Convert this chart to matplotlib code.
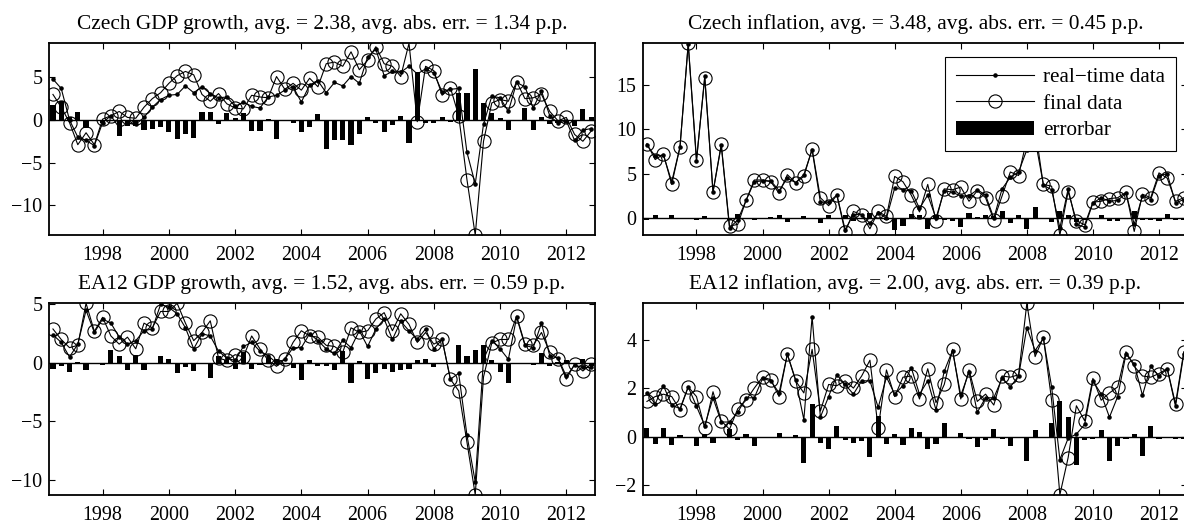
import numpy as np
import matplotlib
matplotlib.use("Agg")
import matplotlib.pyplot as plt

# quarterly observations 1996Q3 .. 2012Q4
quarters = np.arange(66)
dates = 1996.5 + 0.25 * quarters

cz_gdp_rt = [4.8, 3.7, 0.0, -2.0, -2.4, -3.0, -0.3, 0.5, -0.9, -0.4,
             -0.5, 0.3, 1.5, 2.4, 2.9, 3.0, 4.0, 3.2, 3.9, 3.1,
             2.6, 2.7, 1.6, 2.1, 1.6, 1.4, 2.7, 2.9, 3.5, 3.9,
             2.1, 4.1, 4.6, 3.2, 4.4, 4.0, 5.1, 4.3, 7.4, 8.3,
             5.2, 5.7, 5.6, 6.3, 5.4, 6.0, 5.5, 3.3, 3.6, 3.7,
             -3.8, -7.5, -0.5, 2.8, 2.6, 1.0, 4.4, 3.9, 1.4, 3.4,
             0.5, -0.4, -0.1, -2.4, -1.2, -1.0]
cz_gdp_fin = [3.0, 1.5, -0.3, -2.9, -1.5, -2.9, 0.1, 0.5, 1.0, 0.3,
              0.2, 1.5, 2.5, 3.2, 4.3, 5.2, 5.7, 5.3, 3.0, 2.2,
              3.1, 1.9, 1.4, 1.3, 2.9, 2.7, 2.6, 5.1, 3.6, 4.3,
              3.5, 4.9, 3.9, 6.6, 6.8, 6.3, 8.0, 5.9, 7.0, 8.6,
              6.6, 6.3, 5.1, 9.0, -0.2, 6.3, 5.8, 2.9, 3.8, 0.5,
              -7.0, -13.5, -2.5, 2.0, 2.4, 2.2, 4.5, 2.5, 2.6, 3.0,
              1.0, -0.1, 0.3, -1.7, -2.5, -1.3]

cz_inf_rt = [8.2, 7.0, 7.1, 4.1, 8.0, 19.6, 6.4, 16.0, 2.9, 8.2,
             -1.1, -0.2, 2.0, 4.1, 4.2, 4.2, 3.1, 4.5, 4.0, 4.9,
             7.7, 1.8, 1.8, 2.6, -1.3, 0.4, 0.4, -0.6, 0.6, 0.0,
             3.4, 3.2, 3.1, 1.1, 2.6, 0.0, 3.1, 2.9, 2.5, 2.5,
             3.2, 2.6, 0.0, 3.3, 4.6, 5.2, 7.7, 10.2, 3.7, 3.2,
             -1.1, 3.3, -0.7, -1.0, 1.7, 2.3, 1.9, 2.0, 2.8, -0.7,
             2.5, 2.1, 4.8, 5.0, 1.7, 2.1]
cz_inf_fin = [8.4, 6.6, 7.2, 3.8, 8.0, 19.7, 6.6, 15.8, 3.0, 8.3,
              -0.9, -0.7, 2.0, 4.3, 4.3, 4.1, 2.8, 4.9, 4.0, 4.7,
              7.8, 2.3, 1.4, 2.6, -1.6, 0.75, 0.4, -1.2, 0.75, 0.2,
              4.7, 4.1, 2.6, 0.7, 3.8, -0.3, 3.3, 3.2, 3.5, 1.9,
              3.1, 2.3, -0.2, 2.5, 5.2, 4.8, 8.9, 8.9, 3.8, 3.6,
              -1.9, 3.0, -0.3, -0.75, 1.8, 1.9, 2.2, 2.3, 2.9, -1.5,
              2.7, 2.3, 5.1, 4.5, 1.9, 2.3]

ea_gdp_rt = [2.4, 1.75, 0.5, 1.6, 4.5, 2.6, 3.75, 3.4, 2.2, 1.6,
             1.9, 2.75, 2.9, 5.0, 4.75, 4.2, 3.0, 1.2, 2.5, 2.3,
             1.0, 0.4, 0.2, 1.4, 1.75, 1.0, 0.6, 0.0, 0.3, 1.3,
             1.3, 2.5, 1.9, 1.2, 0.8, 1.95, 1.3, 2.75, 1.4, 2.9,
             3.75, 2.0, 3.55, 2.75, 2.0, 2.9, 1.2, 2.0, -1.4, -0.9,
             -6.2, -10.2, 0.3, 1.9, 1.2, 0.3, 3.9, 1.5, 1.3, 3.4,
             0.6, 0.4, -1.15, -0.2, -0.4, -0.4]
ea_gdp_fin = [2.9, 2.0, 1.3, 1.5, 5.1, 2.7, 3.9, 2.3, 1.6, 2.2,
              1.2, 3.4, 3.0, 4.4, 4.4, 5.1, 3.4, 1.9, 2.6, 3.6,
              0.4, 0.2, 0.7, 0.5, 2.3, 1.2, 0.2, -0.3, 0.3, 1.75,
              2.75, 2.3, 2.2, 1.5, 1.4, 0.9, 3.0, 2.6, 2.75, 3.75,
              4.3, 2.75, 4.2, 3.3, 1.75, 2.6, 1.6, 2.0, -1.4, -2.4,
              -6.8, -11.3, -1.2, 1.7, 2.0, 2.0, 4.0, 1.6, 1.5, 2.6,
              0.9, 0.35, -1.4, -0.1, -0.7, -0.1]

ea_inf_rt = [1.8, 1.35, 2.1, 1.3, 1.15, 2.05, 1.25, 0.45, 1.6, 0.6,
             0.6, 1.0, 1.6, 1.6, 2.4, 2.3, 1.8, 3.4, 2.35, 0.7,
             4.95, 0.8, 1.65, 2.55, 2.15, 1.75, 2.3, 2.3, 1.2, 2.45,
             1.75, 2.1, 2.85, 1.75, 2.3, 1.1, 2.7, 3.55, 1.7, 2.65,
             1.0, 1.6, 1.6, 2.4, 2.05, 2.5, 4.5, 3.55, 4.05, 2.05,
             -0.95, -0.07, 0.1, 0.5, 2.3, 1.75, 0.8, 1.65, 3.4, 3.0,
             1.7, 2.9, 2.5, 2.8, 1.25, 3.4]
ea_inf_fin = [1.45, 1.65, 1.75, 1.65, 1.1, 2.05, 1.65, 0.35, 1.85, 0.65,
              0.3, 1.15, 1.5, 2.0, 2.45, 2.35, 1.65, 3.4, 2.3, 1.8,
              3.6, 1.05, 2.15, 2.1, 2.3, 2.0, 2.5, 3.15, 0.35, 2.75,
              1.65, 2.45, 2.5, 1.55, 2.8, 1.4, 2.15, 3.6, 1.55, 2.75,
              1.45, 1.75, 1.3, 2.5, 2.45, 2.55, 5.5, 3.3, 4.1, 1.5,
              -2.4, -0.87, 1.27, 0.65, 2.4, 1.5, 1.8, 2.05, 3.5, 2.9,
              2.5, 2.45, 2.6, 2.8, 1.35, 3.5]

titles = ["Czech GDP growth, avg. = 2.38, avg. abs. err. = 1.34 p.p.",
          "Czech inflation, avg. = 3.48, avg. abs. err. = 0.45 p.p.",
          "EA12 GDP growth, avg. = 1.52, avg. abs. err. = 0.59 p.p.",
          "EA12 inflation, avg. = 2.00, avg. abs. err. = 0.39 p.p."]
yticks = [[-10, -5, 0, 5], [0, 5, 10, 15], [-10, -5, 0, 5], [-2, 0, 2, 4]]
xticks = np.arange(1998, 2013, 2)

panels = [(cz_gdp_rt, cz_gdp_fin), (cz_inf_rt, cz_inf_fin),
          (ea_gdp_rt, ea_gdp_fin), (ea_inf_rt, ea_inf_fin)]

plt.rcParams['font.family'] = ['Liberation Serif', 'DejaVu Serif']
plt.rcParams['font.size'] = 14.4

fig = plt.figure(figsize=(11.84, 5.24), dpi=100)
W, H = 1184.0, 524.0
# axes boxes in pixels: left, top, right, bottom
boxes_px = [(49.3, 43.3, 594.8, 235.0), (643.3, 43.3, 1187.4, 235.0),
            (49.3, 303.3, 594.8, 494.7), (643.3, 303.3, 1187.4, 494.7)]

for k, (rt, fin) in enumerate(panels):
    l, t, r, b = boxes_px[k]
    ax = fig.add_axes([l / W, 1 - b / H, (r - l) / W, (b - t) / H])
    rt = np.array(rt)
    fin = np.array(fin)
    err = rt - fin

    ax.axhline(0, color='k', lw=1.0, zorder=1)
    h1, = ax.plot(dates, rt, '-', color='k', lw=0.8, marker='.', ms=4.5,
                  label='real\u2212time data')
    h2, = ax.plot(dates, fin, '-', color='k', lw=0.8, marker='o', ms=9.5,
                  mfc='none', mew=0.8, label='final data')
    h3 = ax.bar(dates, err, width=0.155, color='k', label='errorbar')

    lo = min(rt.min(), fin.min(), err.min())
    hi = max(rt.max(), fin.max(), err.max())
    ax.set_ylim(lo, hi)
    ax.set_xlim(1996.39, 2012.86)
    ax.set_xticks(xticks)
    ax.set_yticks(yticks[k])
    ax.set_title(titles[k], fontsize=15.4, pad=10.5)
    ax.tick_params(direction='in', top=True, right=True, length=4.5,
                   width=0.8)
    ax.tick_params(axis='x', pad=8)
    ax.tick_params(axis='y', pad=5)
    for s in ax.spines.values():
        s.set_linewidth(1.3)

    if k == 1:
        leg = ax.legend(handles=[h1, h2, h3], loc='upper right',
                        bbox_to_anchor=(0.979, 0.9285), borderaxespad=0,
                        fancybox=False, framealpha=1, edgecolor='k',
                        handlelength=3.7, handletextpad=0.45,
                        labelspacing=0.32, borderpad=0.5, fontsize=15.2)
        leg.get_frame().set_linewidth(0.8)

fig.savefig("out.png", dpi=100)
